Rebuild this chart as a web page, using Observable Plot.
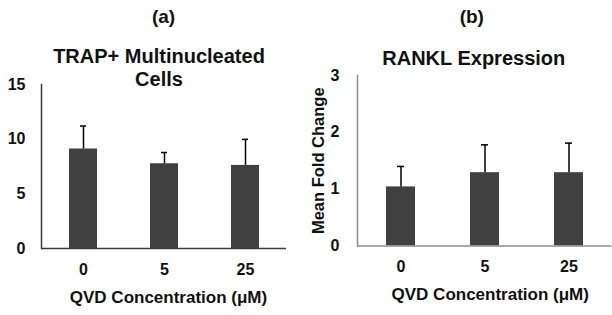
<!DOCTYPE html>
<html>
<head>
<meta charset="utf-8">
<script src="https://cdn.jsdelivr.net/npm/d3@7"></script>
<script src="https://cdn.jsdelivr.net/npm/@observablehq/plot@0.6"></script>
<style>
  html, body { margin: 0; padding: 0; background: #fff; }
  #wrap { display: flex; width: 612px; height: 315px; overflow: hidden; }
  svg { font-family: "Liberation Sans", Arial, sans-serif; }
</style>
</head>
<body>
<div id="wrap"></div>
<script>
// ---- data ----
const concentrations = ["0", "5", "25"];
const trapMean = [9.1, 7.75, 7.6];
const trapErr = [2.1, 1.03, 2.38];
const ranklMean = [1.04, 1.29, 1.29];
const ranklErr = [0.36, 0.49, 0.52];
const trapTicks = [0, 5, 10, 15];
const ranklTicks = [0, 1, 2, 3];
const panelLabels = ["(a)", "(b)"];
const titles = ["TRAP+ Multinucleated\nCells", "RANKL Expression"];
const xLabel = "QVD Concentration (\u03BCM)";
const yLabelB = "Mean Fold Change";

const trapData = concentrations.map((c, i) => ({c, v: trapMean[i], e: trapErr[i]}));
const ranklData = concentrations.map((c, i) => ({c, v: ranklMean[i], e: ranklErr[i]}));

const barColor = "#404040";
const txt = "#111";

function panel({data, ticks, domain, ml, mr, mt, mb, axisColor, tickPad, label, title, titleDx, titleDy, labelDx, labelDy, xlabDx, yLabel}) {
  const marks = [
    Plot.barY(data, {x: "c", y: "v", fill: barColor}),
    Plot.ruleX(data, {x: "c", y1: "v", y2: d => d.v + d.e, stroke: "#000", strokeWidth: 1.5}),
    Plot.tickY(data, {x: "c", y: d => d.v + d.e, stroke: "#000", strokeWidth: 1.5, insetLeft: 11, insetRight: 11}),
    Plot.frame({anchor: "left", stroke: axisColor, strokeWidth: 1.5}),
    Plot.ruleY([0], {stroke: axisColor, strokeWidth: 1.5}),
    Plot.axisY({ticks, tickSize: 0, tickPadding: tickPad, fontSize: 16, fontWeight: "bold", fill: txt, label: null, tickFormat: d => String(d)}),
    Plot.axisX({tickSize: 0, tickPadding: 15, fontSize: 16, fontWeight: "bold", fill: txt, label: null}),
    Plot.text([label], {frameAnchor: "top", dx: labelDx, dy: labelDy, fontSize: 19, fontWeight: "bold", fill: txt, lineAnchor: "middle"}),
    Plot.text([title], {frameAnchor: "top", dx: titleDx, dy: titleDy, fontSize: 20, fontWeight: "bold", fill: txt, lineAnchor: "middle", lineHeight: 1.15}),
    Plot.text([xLabel], {frameAnchor: "bottom", dx: xlabDx, dy: 49, fontSize: 17, fontWeight: "bold", fill: txt, lineAnchor: "middle"})
  ];
  if (yLabel) {
    marks.push(Plot.text([yLabel], {frameAnchor: "left", dx: -39, dy: 0, rotate: -90, textAnchor: "middle", fontSize: 16.5, fontWeight: "bold", fill: txt, lineAnchor: "middle"}));
  }
  return Plot.plot({
    width: 306,
    height: 315,
    marginLeft: ml,
    marginRight: mr,
    marginTop: mt,
    marginBottom: mb,
    style: {fontFamily: "'Liberation Sans', Arial, sans-serif", background: "#fff", overflow: "visible"},
    x: {type: "band", domain: concentrations, paddingInner: 0.66, paddingOuter: 0.33},
    y: {domain, ticks},
    marks
  });
}

const wrap = document.getElementById("wrap");
wrap.appendChild(panel({
  data: trapData, ticks: trapTicks, domain: [0, 15],
  ml: 41, mr: 20, mt: 84, mb: 67,
  axisColor: "#3a3a3a", tickPad: 16,
  label: panelLabels[0], labelDx: -0.5, labelDy: -68,
  title: titles[0], titleDx: -5, titleDy: -17.5,
  xlabDx: 4.5
}));
wrap.appendChild(panel({
  data: ranklData, ticks: ranklTicks, domain: [0, 3],
  ml: 51, mr: 0.5, mt: 75, mb: 69.5,
  axisColor: "#8c8c8c", tickPad: 18,
  label: panelLabels[1], labelDx: -13, labelDy: -59,
  title: titles[1], titleDx: -11, titleDy: -18,
  xlabDx: 5.5, yLabel: yLabelB
}));
</script>
</body>
</html>
